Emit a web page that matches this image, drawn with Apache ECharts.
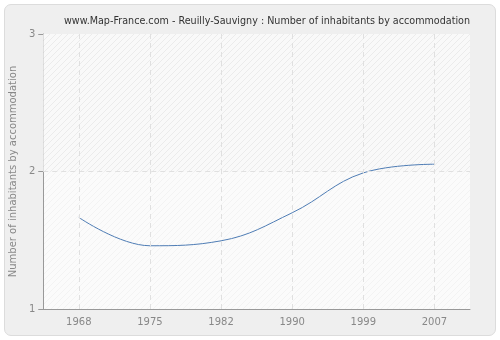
<!DOCTYPE html>
<html>
<head>
<meta charset="utf-8">
<script src="https://cdn.jsdelivr.net/npm/echarts@6/dist/echarts.min.js"></script>
<style>
html,body{margin:0;padding:0;background:#fff;}
#wrap{position:absolute;left:4px;top:4px;width:490px;height:330px;background:#efefef;border:1px solid #dcdcdc;border-radius:7px;}
#chart{position:absolute;left:0;top:0;width:500px;height:340px;}
</style>
</head>
<body>
<div id="wrap"></div>
<div id="chart"></div>
<script>
var titleText = "www.Map-France.com - Reuilly-Sauvigny : Number of inhabitants by accommodation";
var yAxisName = "Number of inhabitants by accommodation";
var categories = ["1968", "1975", "1982", "1990", "1999", "2007"];
var values = [1.666, 1.46, 1.496, 1.70, 1.99, 2.053];
var yTicks = [1, 2, 3];

function makePattern(bg, line) {
  var c = document.createElement('canvas');
  c.width = 6; c.height = 6;
  var ctx = c.getContext('2d');
  ctx.fillStyle = bg; ctx.fillRect(0, 0, 6, 6);
  ctx.strokeStyle = line; ctx.lineWidth = 1;
  ctx.beginPath();
  ctx.moveTo(0, 6); ctx.lineTo(6, 0);
  ctx.moveTo(-3, 3); ctx.lineTo(3, -3);
  ctx.moveTo(3, 9); ctx.lineTo(9, 3);
  ctx.stroke();
  return c;
}

var gridLines = categories.map(function (c) { return {xAxis: c}; });
gridLines.push({yAxis: yTicks[1]});

var chart = echarts.init(document.getElementById('chart'), null, {renderer: 'canvas'});
chart.setOption({
  backgroundColor: 'transparent',
  animation: false,
  title: {
    text: titleText,
    left: 59, top: 11,
    textStyle: {fontFamily: 'DejaVu Sans', fontSize: 9.6, fontWeight: 'normal', color: '#333'}
  },
  grid: {
    left: 40, right: 30, top: 34, bottom: 31,
    show: true, borderWidth: 0,
    backgroundColor: {image: makePattern('#fbfbfb', '#f3f3f3'), repeat: 'repeat'}
  },
  xAxis: {
    type: 'category',
    data: categories,
    boundaryGap: true,
    axisLine: {lineStyle: {color: '#999', width: 1}},
    axisTick: {alignWithLabel: true, length: 5, lineStyle: {color: '#999'}},
    axisLabel: {color: '#888', fontFamily: 'DejaVu Sans', fontSize: 10, margin: 8},
    splitLine: {show: false}
  },
  yAxis: {
    type: 'value',
    min: yTicks[0], max: yTicks[yTicks.length - 1], interval: 1,
    name: yAxisName,
    nameLocation: 'middle',
    nameGap: 24,
    nameTextStyle: {color: '#888', fontFamily: 'DejaVu Sans', fontSize: 10},
    axisLine: {show: true, lineStyle: {color: '#999', width: 1}},
    axisTick: {show: true, length: 5, lineStyle: {color: '#999'}},
    axisLabel: {color: '#888', fontFamily: 'DejaVu Sans', fontSize: 10, margin: 8},
    splitLine: {show: false}
  },
  series: [{
    type: 'line',
    data: values,
    smooth: 0.4,
    symbol: 'none',
    lineStyle: {color: '#4f7db5', width: 1},
    markArea: {
      silent: true,
      itemStyle: {color: {image: makePattern('#f9f9f9', '#ebebeb'), repeat: 'repeat'}},
      data: [[{yAxis: yTicks[1]}, {yAxis: yTicks[2]}]]
    },
    markLine: {
      silent: true,
      symbol: 'none',
      label: {show: false},
      lineStyle: {color: '#e0e0e0', type: [5, 4], width: 1},
      data: gridLines
    },
    z: 3
  }]
});
</script>
</body>
</html>
